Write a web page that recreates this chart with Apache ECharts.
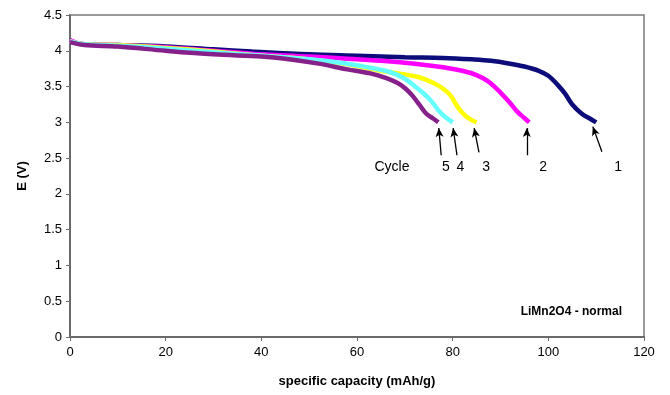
<!DOCTYPE html>
<html>
<head>
<meta charset="utf-8">
<script src="https://cdn.jsdelivr.net/npm/echarts@6/dist/echarts.min.js"></script>
<style>
  html, body { margin: 0; padding: 0; background: #fff; }
  #chart { width: 670px; height: 395px; }
</style>
</head>
<body>
<div id="chart"></div>
<script>
// Discharge curves, LiMn2O4 cell: capacity (mAh/g) vs potential (V), cycles 1-5
const cap1  = [0, 3, 10, 20, 30, 38, 50, 60, 70, 78, 84, 88, 92, 95, 98, 100, 102, 103.5, 105, 107, 108.5, 110];
const volt1 = [4.13, 4.09, 4.08, 4.06, 4.02, 3.99, 3.95, 3.93, 3.91, 3.90, 3.88, 3.86, 3.82, 3.78, 3.72, 3.65, 3.52, 3.40, 3.25, 3.12, 3.06, 3.00];

const cap2  = [0, 2, 10, 20, 30, 38, 50, 58, 65, 72, 78, 82, 85, 87.5, 89, 90.5, 92, 93.5, 95, 96];
const volt2 = [4.15, 4.10, 4.08, 4.05, 4.00, 3.96, 3.92, 3.89, 3.86, 3.82, 3.77, 3.72, 3.66, 3.57, 3.48, 3.38, 3.27, 3.15, 3.06, 3.00];

const cap3  = [0, 3, 10, 20, 30, 38, 50, 58, 65, 70, 73, 76, 78, 79.5, 81, 82.5, 84, 85];
const volt3 = [4.13, 4.09, 4.08, 4.04, 3.99, 3.94, 3.88, 3.81, 3.72, 3.67, 3.63, 3.55, 3.47, 3.38, 3.22, 3.10, 3.03, 3.00];

const cap4  = [0, 3, 10, 20, 30, 38, 50, 58, 63, 67, 70, 72, 74, 75.5, 77, 78.5, 80];
const volt4 = [4.13, 4.09, 4.07, 4.03, 3.98, 3.94, 3.88, 3.82, 3.76, 3.70, 3.61, 3.51, 3.40, 3.30, 3.17, 3.07, 3.00];

const cap5  = [0, 3, 10, 20, 30, 40, 45, 52, 58, 63, 66, 68.5, 70, 71.5, 73, 74.5, 76, 77];
const volt5 = [4.12, 4.08, 4.06, 4.00, 3.95, 3.92, 3.89, 3.82, 3.74, 3.68, 3.62, 3.55, 3.48, 3.38, 3.25, 3.12, 3.05, 3.00];

// Arrows pointing at the end of each cycle curve (tail -> tip)
const arrowTailX = [77.6, 80.9, 85.5, 95.5, 111.2];
const arrowTailY = [2.54, 2.54, 2.58, 2.54, 2.59];
const arrowTipX  = [77.1, 80.1, 84.5, 95.5, 109.3];
const arrowTipY  = [2.92, 2.92, 2.92, 2.92, 2.94];

// Cycle labels under the arrows
const labelText = ['Cycle', '5', '4', '3', '2', '1'];
const labelX    = [67.3, 78.6, 81.6, 87.0, 98.9, 114.6];
const labelY    = [2.38, 2.38, 2.38, 2.38, 2.38, 2.38];

const xTicks = [0, 20, 40, 60, 80, 100, 120];
const yTicks = [0, 0.5, 1, 1.5, 2, 2.5, 3, 3.5, 4, 4.5];

const colors = ['#0c0c7a', '#ff00ff', '#ffff00', '#66ffff', '#86208a'];

function pairs(xs, ys) { return xs.map((x, i) => [x, ys[i]]); }

const curves = [[cap1, volt1], [cap2, volt2], [cap3, volt3], [cap4, volt4], [cap5, volt5]];

const font = 'Liberation Sans, Arial, sans-serif';

const lineSeries = curves.map((c, i) => ({
  type: 'line',
  name: 'Cycle ' + (i + 1),
  data: pairs(c[0], c[1]),
  smooth: 0.35,
  showSymbol: false,
  symbol: 'none',
  lineStyle: { color: colors[i], width: 4.5 },
  z: 2 + i,
  animation: false
}));

const arrowLines = arrowTailX.map((x, i) => [
  { coord: [x, arrowTailY[i]], symbol: 'none' },
  { coord: [arrowTipX[i], arrowTipY[i]], symbol: 'arrow', symbolSize: [6, 9] }
]);

const chart = echarts.init(document.getElementById('chart'), null, { renderer: 'canvas' });
chart.setOption({
  animation: false,
  grid: { left: 70, right: 26, top: 15, bottom: 58, show: true, borderColor: '#7a7a7a', borderWidth: 1.5 },
  xAxis: {
    type: 'value',
    min: xTicks[0], max: xTicks[xTicks.length - 1], interval: 20,
    name: 'specific capacity (mAh/g)',
    nameLocation: 'middle', nameGap: 38,
    nameTextStyle: { fontFamily: font, fontSize: 13, fontWeight: 'bold', color: '#000' },
    axisLine: { lineStyle: { color: '#6a6a6a', width: 2 } },
    axisTick: { show: true, length: 4, lineStyle: { color: '#6a6a6a' } },
    axisLabel: { fontFamily: font, fontSize: 13, color: '#000', margin: 9 },
    splitLine: { show: false }
  },
  yAxis: {
    type: 'value',
    min: yTicks[0], max: yTicks[yTicks.length - 1], interval: 0.5,
    name: 'E (V)',
    nameLocation: 'middle', nameGap: 41,
    nameTextStyle: { fontFamily: font, fontSize: 13, fontWeight: 'bold', color: '#000' },
    axisLine: { show: true, lineStyle: { color: '#6a6a6a', width: 2 } },
    axisTick: { show: true, length: 4, lineStyle: { color: '#6a6a6a' } },
    axisLabel: { fontFamily: font, fontSize: 13, color: '#000', margin: 8 },
    splitLine: { show: false }
  },
  series: lineSeries.concat([
    {
      type: 'scatter',
      data: labelX.map((x, i) => [x, labelY[i], labelText[i]]),
      symbol: 'circle',
      symbolSize: 1,
      itemStyle: { color: 'rgba(255,255,255,0)' },
      silent: true,
      label: {
        show: true, position: 'inside',
        formatter: p => p.data[2],
        fontFamily: font, fontSize: 14, color: '#000', opacity: 1,
        textBorderWidth: 0
      },
      markLine: {
        silent: true,
        symbol: ['none', 'arrow'],
        symbolSize: 9,
        label: { show: false },
        lineStyle: { color: '#000', width: 1.3, type: 'solid', opacity: 1 },
        data: arrowLines
      },
      z: 10
    }
  ]),
  graphic: [{
    type: 'text',
    right: 48, top: 306,
    style: { text: 'LiMn2O4 - normal', font: 'bold 12px ' + font, fill: '#000' }
  }]
});
</script>
</body>
</html>
